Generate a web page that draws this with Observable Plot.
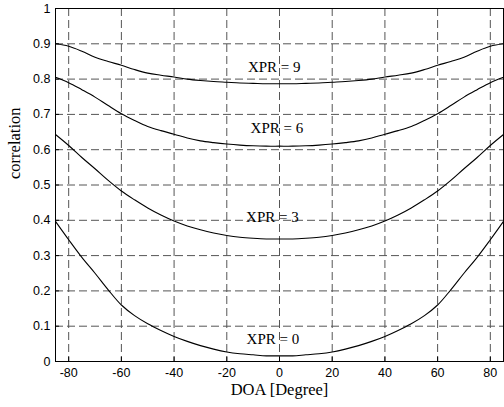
<!DOCTYPE html>
<html><head><meta charset="utf-8">
<script src="https://cdn.jsdelivr.net/npm/d3@7"></script>
<script src="https://cdn.jsdelivr.net/npm/@observablehq/plot@0.6"></script>
<style>body{margin:0;background:#fff}</style>
</head><body><div id="chart"></div>
<script>
const doa = [-85,-80,-75,-70,-65,-60,-55,-50,-45,-40,-35,-30,-25,-20,-15,-10,-5,0,5,10,15,20,25,30,35,40,45,50,55,60,65,70,75,80,85];
const xpr9 = [0.900,0.893,0.879,0.862,0.850,0.839,0.827,0.817,0.811,0.806,0.800,0.796,0.793,0.791,0.789,0.788,0.787,0.787,0.787,0.788,0.789,0.791,0.793,0.796,0.800,0.806,0.811,0.817,0.827,0.839,0.850,0.862,0.879,0.893,0.900];
const xpr6 = [0.805,0.790,0.770,0.749,0.725,0.702,0.683,0.666,0.654,0.644,0.633,0.625,0.620,0.616,0.613,0.611,0.610,0.610,0.610,0.611,0.613,0.616,0.620,0.625,0.633,0.644,0.654,0.666,0.683,0.702,0.725,0.749,0.770,0.790,0.805];
const xpr3 = [0.643,0.612,0.578,0.546,0.513,0.483,0.458,0.435,0.415,0.398,0.384,0.373,0.364,0.357,0.352,0.349,0.347,0.347,0.347,0.349,0.352,0.357,0.364,0.373,0.384,0.398,0.415,0.435,0.458,0.483,0.513,0.546,0.578,0.612,0.643];
const xpr0 = [0.397,0.345,0.295,0.250,0.203,0.160,0.130,0.107,0.088,0.071,0.057,0.045,0.035,0.027,0.022,0.019,0.016,0.016,0.016,0.019,0.022,0.027,0.035,0.045,0.057,0.071,0.088,0.107,0.130,0.160,0.203,0.250,0.295,0.345,0.397];
const seriesNames = ["XPR = 9","XPR = 6","XPR = 3","XPR = 0"];
const labelDoa = [-2, -1, -2.7, -2.5];
const labelCorr = [0.834, 0.66, 0.408, 0.062];
const xTicks = [-80,-60,-40,-20,0,20,40,60,80];
const yTicks = [0,0.1,0.2,0.3,0.4,0.5,0.6,0.7,0.8,0.9,1];
const xTitle = "DOA [Degree]";
const yTitle = "correlation";

const allSeries = [xpr9, xpr6, xpr3, xpr0];
const rows = allSeries.flatMap((vals, i) => doa.map((d, j) => ({doa: d, corr: vals[j], s: seriesNames[i]})));
const labels = seriesNames.map((t, i) => ({t, x: labelDoa[i], y: labelCorr[i]}));
const serif = "'Liberation Serif', 'Times New Roman', serif";

const chart = Plot.plot({
  width: 504, height: 407,
  marginLeft: 55, marginRight: 1, marginTop: 8, marginBottom: 46,
  style: {fontFamily: "'Liberation Sans', Arial, sans-serif", fontSize: "12.5px", color: "#000", background: "#fff"},
  x: {domain: [-85, 85]},
  y: {domain: [0, 1]},
  marks: [
    Plot.gridX(xTicks, {stroke: "#555", strokeOpacity: 1, strokeDasharray: "8,4"}),
    Plot.gridY(yTicks.filter(v => v > 0 && v < 1), {stroke: "#555", strokeOpacity: 1, strokeDasharray: "8,4"}),
    Plot.axisX(xTicks, {tickSize: 0, tickPadding: 7, label: null, fill: "#000", tickFormat: d => String(d)}),
    Plot.axisY(yTicks, {tickSize: 0, tickPadding: 5, label: null, fill: "#000", tickFormat: d => String(d)}),
    Plot.ruleX(xTicks, {y1: 0, y2: 0.012, stroke: "#000"}),
    Plot.ruleY(yTicks, {x1: -85, x2: -83.5, stroke: "#000"}),
    Plot.frame({stroke: "#000", strokeWidth: 1}),
    Plot.line(rows, {x: "doa", y: "corr", z: "s", stroke: "#000", strokeWidth: 1.1, curve: "catmull-rom"}),
    Plot.text(labels, {x: "x", y: "y", text: "t", fontFamily: serif, fontSize: 15, fill: "#000"}),
    Plot.text([xTitle], {frameAnchor: "bottom", dy: 33, fontFamily: serif, fontSize: 16.5, fill: "#000"}),
    Plot.text([yTitle], {frameAnchor: "left", dx: -41, dy: -6, rotate: -90, fontFamily: serif, fontSize: 16.5, fill: "#000"})
  ]
});
document.getElementById("chart").appendChild(chart);
</script>
</body></html>
